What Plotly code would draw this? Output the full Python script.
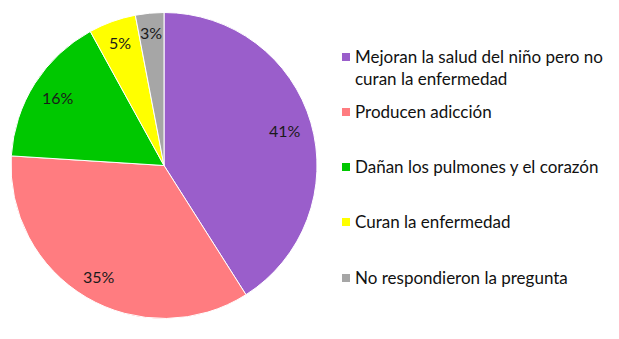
import math
import plotly.graph_objects as go

labels = ["Mejoran la salud del niño pero no<br>curan la enfermedad",
          "Producen adicción",
          "Dañan los pulmones y el corazón",
          "Curan la enfermedad",
          "No respondieron la pregunta"]
values = [41, 35, 16, 5, 3]
colors = ["#9A5ECB", "#FF7C80", "#00C800", "#FFFF00", "#A6A6A6"]
legend_y = [57, 112, 167, 222, 278]  # pixel rows of legend entries

W, H = 619, 339
FONT = "Lato"
CX, CY, R = 164, 165.5, 153  # pie centre / radius in pixels
x0p, x1p, y0p, y1p = CX - R, CX + R, CY - R, CY + R

fig = go.Figure(go.Pie(
    labels=labels, values=values, sort=False, direction="clockwise", rotation=0,
    marker=dict(colors=colors, line=dict(color="white", width=1)),
    textinfo="none",
    domain=dict(x=[x0p / W, x1p / W], y=[(H - y1p) / H, (H - y0p) / H]),
    showlegend=False, hoverinfo="label+percent",
))

annos, shapes = [], []
# data labels placed "inside end" like the original
total = sum(values)
cum = 0
for v in values:
    mid = (cum + v / 2) / total * 2 * math.pi
    cum += v
    s, c = math.sin(mid), math.cos(mid)
    half = 15 * abs(s) + 8 * abs(c)
    d = R - 10 - half
    px, py = CX + d * s, CY - d * c
    annos.append(dict(text=f"{v}%", xref="paper", yref="paper", x=px / W, y=(H - py) / H,
                      xanchor="center", yanchor="middle", showarrow=False,
                      font=dict(family=FONT, size=16, color="#1a1a1a")))

for lab, col, py in zip(labels, colors, legend_y):
    shapes.append(dict(type="rect", xref="paper", yref="paper",
                       x0=342 / W, x1=350 / W, y0=(H - py - 4) / H, y1=(H - py + 4) / H,
                       fillcolor=col, line=dict(width=0)))
    annos.append(dict(text=lab, xref="paper", yref="paper", x=353 / W, y=(H - py + 13) / H,
                      xanchor="left", yanchor="top", align="left", showarrow=False,
                      font=dict(family=FONT, size=17, color="#111111")))

fig.update_layout(width=W, height=H, margin=dict(l=0, r=0, t=0, b=0),
                  paper_bgcolor="white", plot_bgcolor="white",
                  shapes=shapes, annotations=annos)
fig.write_html("out.html", config={"displayModeBar": False},
               post_script="document.body.style.margin='0px';")
